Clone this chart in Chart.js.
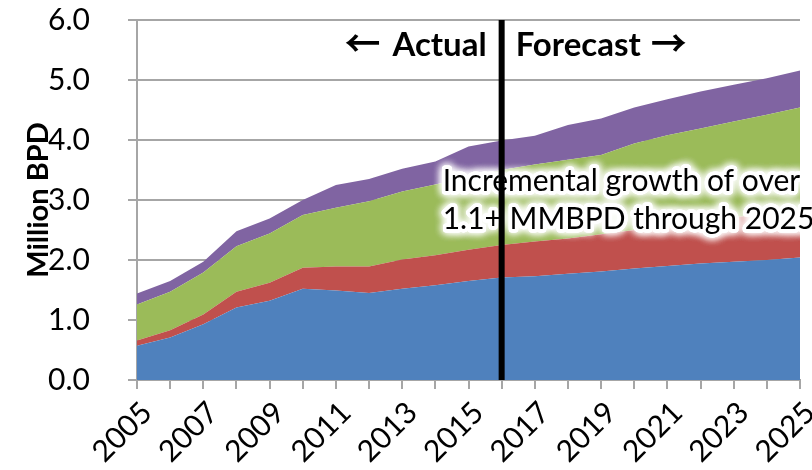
<!DOCTYPE html>
<html>
<head>
<meta charset="utf-8">
<title>Million BPD – actual and forecast</title>
<script src="https://cdn.jsdelivr.net/npm/chart.js@4.4.1/dist/chart.umd.min.js"></script>
<style>
  html, body { margin: 0; padding: 0; background: #ffffff; }
  #chart { display: block; }
</style>
</head>
<body>
<canvas id="chart" width="812" height="470"></canvas>
<script>
// Years on the category axis
const years = ['2005','2006','2007','2008','2009','2010','2011','2012','2013','2014','2015',
               '2016','2017','2018','2019','2020','2021','2022','2023','2024','2025'];

// First forecast year (the divider is drawn here)
const forecastStartYear = '2016';

// Stacked components, million barrels per day (bottom to top)
const segmentA = [0.57,0.71,0.93,1.21,1.32,1.52,1.49,1.45,1.52,1.58,1.65,
                  1.71,1.73,1.77,1.81,1.86,1.90,1.94,1.97,2.00,2.04];
const segmentB = [0.09,0.12,0.16,0.26,0.30,0.35,0.40,0.44,0.49,0.50,0.52,
                  0.54,0.58,0.59,0.62,0.64,0.67,0.70,0.74,0.78,0.81];
const segmentC = [0.60,0.64,0.70,0.76,0.82,0.88,0.98,1.09,1.13,1.18,1.21,
                  1.25,1.28,1.31,1.32,1.44,1.51,1.55,1.60,1.64,1.69];
const segmentD = [0.18,0.18,0.18,0.25,0.25,0.25,0.38,0.37,0.38,0.38,0.51,
                  0.49,0.48,0.58,0.61,0.60,0.60,0.62,0.61,0.61,0.62];

// Value-axis ticks
const yTicks = [0,1,2,3,4,5,6];

const headerLeft = ['\u2190', 'Actual'];
const headerRight = ['Forecast', '\u2192'];
const noteLines = ['Incremental growth of over', '1.1+ MMBPD through 2025'];

const FONT = 'Lato, "Open Sans", "DejaVu Sans", sans-serif';
const ARROW_FONT = 'bold 36px "Noto Sans CJK JP", "DejaVu Sans", sans-serif';
const GRID = '#a6a6a6';

// Divider, period headers and the haloed note
const forecastOverlay = {
  id: 'forecastOverlay',
  afterDatasetsDraw(chart) {
    const { ctx, chartArea, scales } = chart;
    const lineX = scales.x.getPixelForValue(years.indexOf(forecastStartYear));
    ctx.save();

    // note with a soft white halo
    ctx.font = '30px ' + FONT;
    ctx.textAlign = 'left';
    ctx.textBaseline = 'alphabetic';
    ctx.lineJoin = 'round';
    const noteX = lineX - 59;
    const noteY = [chartArea.top + 171, chartArea.top + 209];
    ctx.shadowColor = '#ffffff';
    ctx.shadowBlur = 8;
    ctx.strokeStyle = 'rgba(255,255,255,0.95)';
    ctx.lineWidth = 7;
    for (let pass = 0; pass < 3; pass++) {
      noteLines.forEach((t, i) => ctx.strokeText(t, noteX, noteY[i]));
    }
    ctx.shadowBlur = 0;
    ctx.fillStyle = '#000000';
    noteLines.forEach((t, i) => ctx.fillText(t, noteX, noteY[i]));

    // divider between actual and forecast
    ctx.strokeStyle = '#000000';
    ctx.lineWidth = 6;
    ctx.beginPath();
    ctx.moveTo(lineX, chartArea.top);
    ctx.lineTo(lineX, chartArea.bottom);
    ctx.stroke();

    // period headers
    const base = chartArea.top + 36;
    const wordFont = 'bold 33px ' + FONT;
    ctx.fillStyle = '#000000';
    ctx.textAlign = 'right';
    ctx.font = wordFont;
    const leftWordX = lineX - 15;
    ctx.fillText(headerLeft[1], leftWordX, base);
    const leftWordW = ctx.measureText(headerLeft[1]).width;
    ctx.font = ARROW_FONT;
    ctx.fillText(headerLeft[0], leftWordX - leftWordW - 12, base + 1);

    ctx.textAlign = 'left';
    ctx.font = wordFont;
    const rightWordX = lineX + 14;
    ctx.fillText(headerRight[0], rightWordX, base);
    const rightWordW = ctx.measureText(headerRight[0]).width;
    ctx.font = ARROW_FONT;
    ctx.fillText(headerRight[1], rightWordX + rightWordW + 10, base + 1);
    ctx.restore();
  }
};

const area = (label, data, color, fill) => ({
  label, data, fill,
  backgroundColor: color,
  borderColor: color,
  borderWidth: 0,
  pointRadius: 0,
  tension: 0
});

new Chart(document.getElementById('chart'), {
  type: 'line',
  data: {
    labels: years,
    datasets: [
      area('Segment A', segmentA, '#4f81bd', 'origin'),
      area('Segment B', segmentB, '#c0504d', '-1'),
      area('Segment C', segmentC, '#9bbb59', '-1'),
      area('Segment D', segmentD, '#8064a2', '-1')
    ]
  },
  options: {
    responsive: false,
    animation: false,
    layout: { padding: { top: 20, right: 12, bottom: 0, left: 0 } },
    plugins: { legend: { display: false }, tooltip: { enabled: false } },
    scales: {
      x: {
        offset: false,
        grid: { drawOnChartArea: false, drawTicks: true, tickLength: 9, color: GRID, lineWidth: 2 },
        border: { display: true, color: GRID, width: 2 },
        ticks: {
          autoSkip: false,
          minRotation: 45, maxRotation: 45,
          padding: 6,
          labelOffset: 10,
          color: '#000000',
          font: { family: FONT, size: 30 },
          callback: (v, i) => (i % 2 === 0 ? years[i] : '')
        },
        afterFit: (scale) => {
          scale.height = 90;
          scale.paddingLeft = 0;
          scale.paddingRight = 0;
        }
      },
      y: {
        stacked: true,
        min: yTicks[0],
        max: yTicks[yTicks.length - 1],
        afterBuildTicks: (scale) => { scale.ticks = yTicks.map(v => ({ value: v })); },
        grid: { color: GRID, lineWidth: 2, drawTicks: true, tickLength: 9 },
        border: { display: true, color: GRID, width: 2 },
        ticks: {
          padding: 38,
          color: '#000000',
          font: { family: FONT, size: 30 },
          callback: (v) => Number(v).toFixed(1)
        },
        title: {
          display: true,
          text: 'Million BPD',
          color: '#000000',
          font: { family: FONT, size: 29, weight: 'bold' },
          padding: { top: 21, bottom: 0 }
        },
        afterFit: (scale) => {
          scale.width = 137;
          scale.paddingTop = 0;
          scale.paddingBottom = 0;
        }
      }
    }
  },
  plugins: [forecastOverlay]
});
</script>
</body>
</html>
